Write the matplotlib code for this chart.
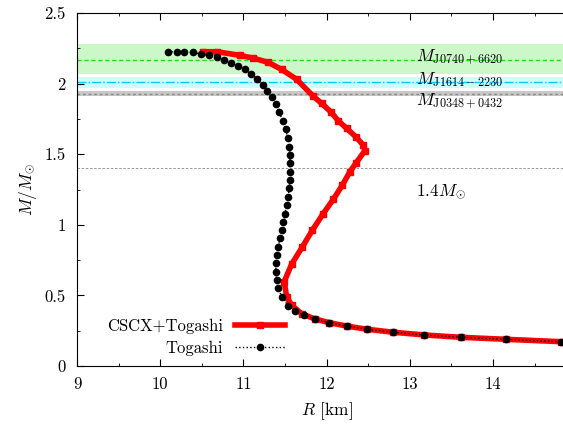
import matplotlib
matplotlib.use("Agg")
import matplotlib.pyplot as plt
from matplotlib.ticker import MultipleLocator

plt.rcParams["font.family"] = "serif"
plt.rcParams["font.serif"] = ["cmr10", "DejaVu Serif"]
plt.rcParams["mathtext.fontset"] = "cm"
plt.rcParams["axes.formatter.use_mathtext"] = True

# Togashi EOS (black dots)
r_tog = [10.09, 10.20, 10.29, 10.39, 10.49, 10.59, 10.68, 10.77, 10.85, 10.94,
         11.02, 11.09, 11.16, 11.23, 11.28, 11.34, 11.39, 11.43, 11.47, 11.51,
         11.53, 11.55, 11.56, 11.56, 11.56, 11.56, 11.55, 11.54, 11.52, 11.50,
         11.48, 11.46, 11.44, 11.42, 11.40, 11.39, 11.39, 11.40, 11.42, 11.46,
         11.54, 11.62, 11.73, 11.86, 12.03, 12.24, 12.49, 12.80, 13.17, 13.62,
         14.16, 14.82]
m_tog = [2.226, 2.226, 2.226, 2.222, 2.210, 2.200, 2.186, 2.170, 2.146, 2.125,
         2.100, 2.070, 2.035, 1.990, 1.950, 1.905, 1.853, 1.800, 1.737, 1.676,
         1.617, 1.550, 1.494, 1.435, 1.376, 1.317, 1.258, 1.199, 1.140, 1.080,
         1.022, 0.963, 0.904, 0.845, 0.786, 0.727, 0.668, 0.609, 0.550, 0.490,
         0.425, 0.390, 0.360, 0.333, 0.307, 0.283, 0.260, 0.239, 0.220, 0.203,
         0.189, 0.172]

# CSCX+Togashi (red)
r_cscx = [10.51, 10.68, 10.96, 11.12, 11.30, 11.46, 11.64, 11.84, 11.94, 12.05,
          12.14, 12.24, 12.35, 12.44, 12.46, 12.35, 12.28, 12.19, 12.08, 11.96,
          11.83, 11.71, 11.58, 11.49, 11.52, 11.58, 11.70, 11.86, 12.03, 12.24,
          12.49, 12.80, 13.17, 13.62, 14.16, 14.82]
m_cscx = [2.226, 2.226, 2.200, 2.180, 2.150, 2.100, 2.030, 1.910, 1.860, 1.800,
          1.737, 1.683, 1.624, 1.565, 1.525, 1.435, 1.376, 1.282, 1.180, 1.080,
          0.963, 0.845, 0.722, 0.597, 0.490, 0.430, 0.370, 0.333, 0.307, 0.283,
          0.260, 0.239, 0.220, 0.203, 0.189, 0.172]

# observed pulsar masses: centre, lower, upper
psr_names = [r"$M_{\mathrm{J0740+6620}}$",
             r"$M_{\mathrm{J1614}-\mathrm{2230}}$",
             r"$M_{\mathrm{J0348+0432}}$"]
psr_mass = [2.17, 2.01, 1.928]
psr_lo = [2.07, 1.97, 1.911]
psr_hi = [2.28, 2.05, 1.945]
psr_label_y = [2.155, 1.996, 1.848]

x_ticks = [9, 10, 11, 12, 13, 14]
y_ticks = [0, 0.5, 1, 1.5, 2, 2.5]
y_ticklabels = ["0", "0.5", "1", "1.5", "2", "2.5"]

fig = plt.figure(figsize=(5.63, 4.24), dpi=100)
ax = fig.add_axes([0.1368, 0.1368, 0.8867, 0.8325])

band_cols = ["#ccf7c8", "#ccffff", "#c8c8c8"]
line_cols = ["#22dd22", "#00ccee", "#888888"]
line_styles = [(0, (3, 2)), "-.", (0, (2, 2))]
for i in range(3):
    ax.axhspan(psr_lo[i], psr_hi[i], color=band_cols[i], lw=0, zorder=0)
    ax.axhline(psr_mass[i], color=line_cols[i], ls=line_styles[i], lw=1.0, zorder=1)
    ax.text(13.07, psr_label_y[i], psr_names[i], fontsize=12.5, va="baseline")
ax.axhline(1.4, color="#888888", ls=(0, (3, 2)), lw=0.6, zorder=1)
ax.text(13.08, 1.211, r"$1.4M_{\odot}$", fontsize=12.5, va="baseline")

ax.plot(r_cscx, m_cscx, color="red", lw=4, marker="s", ms=5, zorder=3,
        label="CSCX+Togashi")
ax.plot(r_tog, m_tog, color="black", ls=":", lw=1.0, marker="o", ms=4.5, zorder=4,
        label="Togashi")

ax.set_xlim(9, 15)
ax.set_ylim(0, 2.5)
ax.xaxis.set_minor_locator(MultipleLocator(0.5))
ax.yaxis.set_minor_locator(MultipleLocator(0.25))
ax.set_xticks(x_ticks, [str(t) for t in x_ticks])
ax.set_yticks(y_ticks, y_ticklabels)
ax.tick_params(which="both", direction="in", top=True, right=True, labelsize=12)
ax.tick_params(which="major", length=5, pad=8)
ax.tick_params(which="minor", length=2.5)

ax.set_xlabel(r"$R$ [km]", fontsize=12.5, labelpad=6)
ax.set_ylabel(r"$M/M_{\odot}$", fontsize=12.5, labelpad=4)

ax.legend(loc="lower left", bbox_to_anchor=(0.06, 0.028), frameon=False, markerfirst=False,
          fontsize=12, handlelength=3.0, handletextpad=0.7, borderpad=0, borderaxespad=0,
          labelspacing=0.4)

fig.savefig("out.png", dpi=100)
